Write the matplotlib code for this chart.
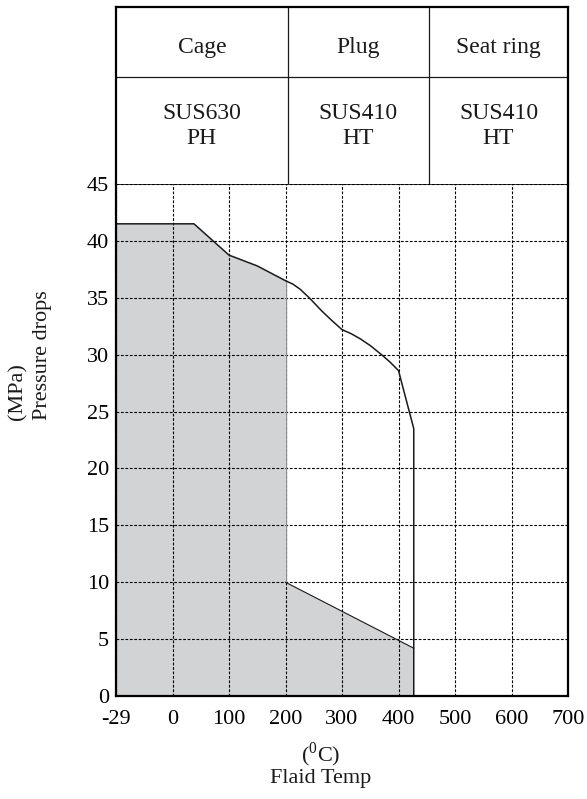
import numpy as np
import matplotlib
matplotlib.use("Agg")
import matplotlib.pyplot as plt

plt.rcParams['font.family'] = ['Liberation Serif', 'DejaVu Serif']
plt.rcParams['mathtext.fontset'] = 'custom'
plt.rcParams['mathtext.rm'] = 'Liberation Serif'

# ---- data ----
x_ticks = [-29, 0, 100, 200, 300, 400, 500, 600, 700]
y_ticks = [0, 5, 10, 15, 20, 25, 30, 35, 40, 45]

upper_T = [-29, 38, 100, 150, 200, 213, 226, 243, 264, 282, 300, 316, 332, 350, 370, 385, 400, 427, 427]
upper_P = [41.5, 41.5, 38.75, 37.8, 36.5, 36.2, 35.75, 34.95, 33.85, 33.0, 32.2, 31.85, 31.4, 30.8, 30.0, 29.35, 28.6, 23.5, 0]

lower_T = [200, 427]
lower_P = [10, 4.2]

parts = ["Cage", "Plug", "Seat ring"]
materials = ["SUS630\nPH", "SUS410\nHT", "SUS410\nHT"]

# ---- figure ----
W, H = 587, 799
fig = plt.figure(figsize=(W / 100, H / 100), dpi=100)

L, R, T_, B = 116, 568, 184, 696
ax = fig.add_axes([L / W, 1 - B / H, (R - L) / W, (B - T_) / H])

fwd = lambda t: np.interp(t, [-29, 0, 700], [0, 1, 8])
inv = lambda i: np.interp(i, [0, 1, 8], [-29, 0, 700])
ax.set_xscale('function', functions=(fwd, inv))
ax.set_xlim(-29, 700)
ax.set_ylim(0, 45)

# fill polygon
uT = np.array(upper_T, dtype=float)
uP = np.array(upper_P, dtype=float)
mask = uT <= lower_T[0]
polyT = list(uT[mask]) + [lower_T[0]] + lower_T + [lower_T[-1], upper_T[0]]
polyP = list(uP[mask]) + [lower_P[0]] + lower_P + [0, 0]
ax.fill(polyT, polyP, color='#d2d3d5', lw=0, zorder=1)

# grid
ax.set_xticks(x_ticks)
ax.set_yticks(y_ticks)
ax.set_xticklabels([str(v) for v in x_ticks])
ax.grid(True, color='black', linestyle=(0, (2.5, 1.5)), linewidth=0.8, zorder=2)
ax.set_axisbelow(False)

# lines
ax.plot([lower_T[0], lower_T[0]], [uP[mask][-1], lower_P[0]], color='#8c8c8c', lw=0.9, zorder=3)
ax.plot(lower_T, lower_P, color='#1a1a1a', lw=0.8, zorder=4)
ax.plot(upper_T, upper_P, color='#1a1a1a', lw=1.1, zorder=4, solid_joinstyle='round')

ax.tick_params(length=0, labelsize=16)
ax.tick_params(axis='x', pad=10)
ax.tick_params(axis='y', pad=5)
for s in ['left', 'right', 'bottom']:
    ax.spines[s].set_linewidth(1.6)
ax.spines['top'].set_linewidth(1.1)
for s in ax.spines.values():
    s.set_zorder(5)

# ---- table ----
tT = 7
tax = fig.add_axes([L / W, 1 - T_ / H, (R - L) / W, (T_ - tT) / H])
tax.set_xlim(0, 1)
tax.set_ylim(0, 1)
tax.set_xticks([])
tax.set_yticks([])
for s in ['left', 'right', 'top']:
    tax.spines[s].set_linewidth(1.6)
tax.spines['bottom'].set_visible(False)

col_edges = [0, (287.7 - L) / (R - L), (429 - L) / (R - L), 1]
row_div = (T_ - 77) / (T_ - tT)
tax.axhline(row_div, color='#1a1a1a', lw=0.9)
for e in col_edges[1:-1]:
    tax.axvline(e, color='#1a1a1a', lw=0.9)

y_row1 = (T_ - 53) / (T_ - tT)
y_row2 = (T_ - 126) / (T_ - tT)
for i in range(3):
    cx = (col_edges[i] + col_edges[i + 1]) / 2
    tax.text(cx, y_row1, parts[i], ha='center', va='baseline', fontsize=17, color='#1a1a1a')
    tax.text(cx, y_row2, materials[i], ha='center', va='center', fontsize=17,
             color='#1a1a1a', linespacing=1.22)

# ---- axis labels ----
fig.text(321 / W, 1 - 755 / H, r'($^{\mathrm{0}}$C)', ha='center', va='center', fontsize=16, color='#1a1a1a')
fig.text(321 / W, 1 - 779 / H, 'Flaid Temp', ha='center', va='center', fontsize=16, color='#1a1a1a')
fig.text(18 / W, 1 - 420 / H, '(MPa)', rotation=90, ha='center', va='bottom', fontsize=16, color='#1a1a1a')
fig.text(42 / W, 1 - 420 / H, 'Pressure drops', rotation=90, ha='center', va='bottom', fontsize=16, color='#1a1a1a')

fig.savefig('out.png', dpi=100)
